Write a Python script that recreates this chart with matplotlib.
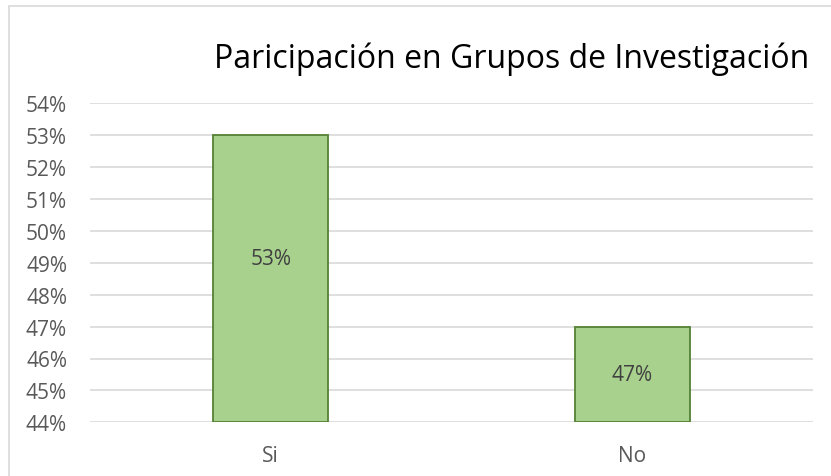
import matplotlib
matplotlib.use("Agg")
import matplotlib.pyplot as plt
from matplotlib.ticker import PercentFormatter, MultipleLocator
from matplotlib.patches import Rectangle

categories = ["Si", "No"]
values = [53, 47]
label_pos = [49.15, 45.5]
title = "Paricipación en Grupos de Investigación"

plt.rcParams['font.family'] = ['Open Sans', 'DejaVu Sans']

W, H = 831, 477
fig = plt.figure(figsize=(W / 100, H / 100), dpi=100)
fig.patches.append(Rectangle((8.5 / W, -0.01), 1.0, 1 - 6.5 / H + 0.01, transform=fig.transFigure,
                             fill=False, edgecolor='#d9d9d9', linewidth=1.2))

ax = fig.add_axes([90 / W, 1 - 423.3 / H, 723 / W, 319 / H])
x = range(len(categories))
ax.bar(x, [v - 44 for v in values], bottom=44, width=0.318,
       color='#a9d18e', edgecolor='#548235', linewidth=1.3, zorder=3)
for xi, lp, v in zip(x, label_pos, values):
    ax.text(xi, lp, f"{v}%", ha='center', va='center', fontsize=15, color='#404040', zorder=4)

ax.set_ylim(44, 54)
ax.set_xlim(-0.5, 1.5)
ax.yaxis.set_major_locator(MultipleLocator(1))
ax.yaxis.set_major_formatter(PercentFormatter(decimals=0))
ax.set_xticks(list(x))
ax.set_xticklabels(categories)
ax.tick_params(axis='both', length=0, labelsize=15, colors='#595959')
ax.tick_params(axis='x', pad=16)
ax.tick_params(axis='y', pad=16.5)
ax.grid(axis='y', color='#d9d9d9', linewidth=1.2, zorder=0)
for s in ax.spines.values():
    s.set_visible(False)

fig.text(511.5 / W, 1 - 67.7 / H, title, ha='center', va='baseline', fontsize=23, color='#000000')

fig.savefig("out.png", dpi=100)
